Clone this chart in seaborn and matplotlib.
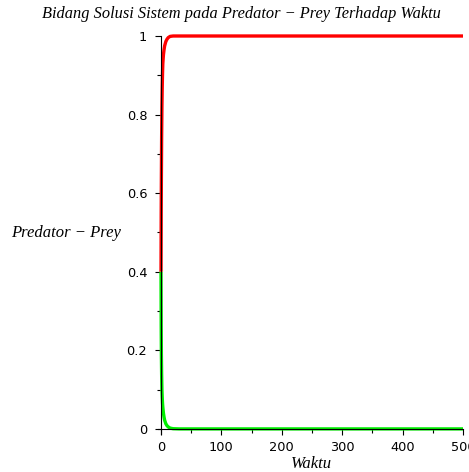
import matplotlib
matplotlib.use("Agg")
import matplotlib.pyplot as plt
from matplotlib.ticker import MultipleLocator
import seaborn as sns
import pandas as pd

# Data
waktu = [0, 0.3, 0.6, 1, 1.5, 2, 2.5, 3, 4, 5, 6, 8, 10, 12, 15, 20, 30, 50, 100, 200, 300, 400, 500]
prey = [0.40, 0.55, 0.64, 0.74, 0.82, 0.87, 0.905, 0.93, 0.952, 0.965, 0.975, 0.986, 0.992, 0.996, 0.999, 1.0, 1.0, 1.0, 1.0, 1.0, 1.0, 1.0, 1.0]
predator = [0.40, 0.26, 0.19, 0.14, 0.10, 0.08, 0.065, 0.055, 0.04, 0.03, 0.022, 0.013, 0.008, 0.005, 0.002, 0.0005, 0.0, 0.0, 0.0, 0.0, 0.0, 0.0, 0.0]

title = "Bidang Solusi Sistem pada Predator \u2212 Prey Terhadap Waktu"
xlabel = "Waktu"
ylabel = "Predator \u2212 Prey"

sns.set_style("white")
plt.rcParams['font.family'] = ['DejaVu Sans']

df = pd.DataFrame({"Waktu": waktu + waktu,
                   "Nilai": prey + predator,
                   "Seri": ["prey"] * len(waktu) + ["predator"] * len(waktu)})

fig = plt.figure(figsize=(4.69, 4.72), dpi=100)
ax = fig.add_axes([158 / 469, (472 - 434) / 472, (463 - 158) / 469, (434 - 36) / 472])

sns.lineplot(data=df, x="Waktu", y="Nilai", hue="Seri",
             palette={"prey": "#ff0000", "predator": "#00ee00"},
             hue_order=["predator", "prey"],
             linewidth=2.4, legend=False, ax=ax, estimator=None, sort=False)
for line in ax.lines:
    line.set_clip_on(False)
    line.set_solid_capstyle("butt")

ax.set_xlim(-5, 500)
ax.set_ylim(-0.013, 1)
for s in ["top", "right"]:
    ax.spines[s].set_visible(False)
ax.spines["left"].set_position(("data", 0))
ax.spines["bottom"].set_position(("data", 0))
for s in ["left", "bottom"]:
    ax.spines[s].set_color("black")
    ax.spines[s].set_linewidth(0.8)

ax.xaxis.set_minor_locator(MultipleLocator(50))
ax.yaxis.set_minor_locator(MultipleLocator(0.1))
ax.set_xticks([0, 100, 200, 300, 400, 500])
ax.set_xticklabels(["0", "100", "200", "300", "400", "500"])
ax.set_yticks([0, 0.2, 0.4, 0.6, 0.8, 1.0])
ax.set_yticklabels(["0", "0.2", "0.4", "0.6", "0.8", "1"])
ax.tick_params(axis="both", which="major", direction="out", length=4, width=0.8,
               color="black", labelcolor="black", labelsize=9.3, bottom=True, left=True)
ax.tick_params(axis="y", which="major", pad=6)
ax.tick_params(axis="x", which="major", pad=5)
ax.tick_params(axis="both", which="minor", direction="out", length=3, width=0.8,
               color="black", bottom=True, left=True)
ax.set_xlabel("")
ax.set_ylabel("")
ax.grid(False)

serif = dict(family=["Liberation Serif", "DejaVu Serif"], style="italic", color="black")
fig.text(241 / 469, 1 - 14 / 472, title, ha="center", va="center", fontsize=11.8, **serif)
fig.text(66 / 469, 1 - 233 / 472, ylabel, ha="center", va="center", fontsize=12, **serif)
fig.text(311 / 469, 1 - 464 / 472, xlabel, ha="center", va="center", fontsize=12, **serif)

fig.savefig("out.png", dpi=100)
